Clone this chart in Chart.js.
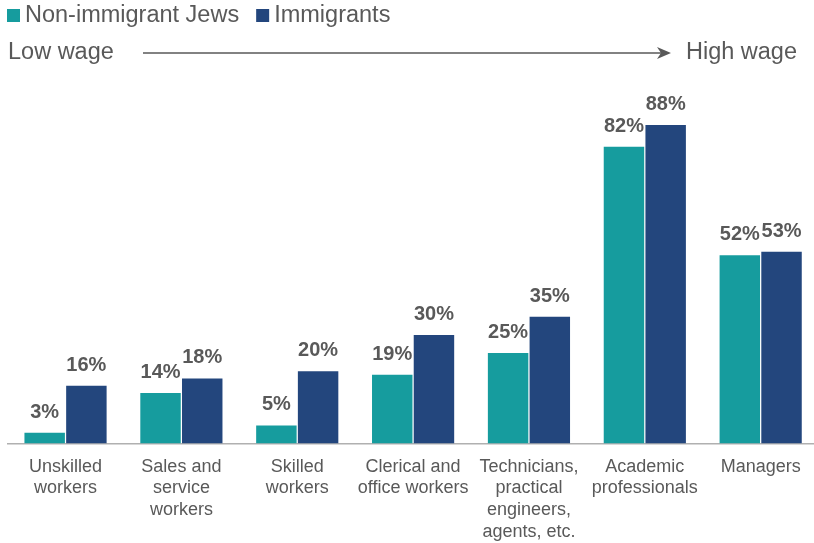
<!DOCTYPE html>
<html>
<head>
<meta charset="utf-8">
<script src="https://cdn.jsdelivr.net/npm/chart.js@4/dist/chart.umd.min.js"></script>
<style>
  html, body { margin: 0; padding: 0; background: #ffffff; overflow: hidden; }
  #wrap { width: 819px; height: 543px; position: relative; }
</style>
</head>
<body>
<div id="wrap"><canvas id="c"></canvas></div>
<script>
const categories = [
  ["Unskilled", "workers"],
  ["Sales and", "service", "workers"],
  ["Skilled", "workers"],
  ["Clerical and", "office workers"],
  ["Technicians,", "practical", "engineers,", "agents, etc."],
  ["Academic", "professionals"],
  ["Managers"]
];
const nonImmigrantJews = [3, 14, 5, 19, 25, 82, 52];
const immigrants = [16, 18, 20, 30, 35, 88, 53];
const seriesNames = ["Non-immigrant Jews", "Immigrants"];
const seriesColors = ["#169C9E", "#23467D"];
const wageLabels = ["Low wage", "High wage"];

const FONT = "'Liberation Sans', Arial, Helvetica, sans-serif";
const TEXT = "#595959";

const headerPlugin = {
  id: 'header',
  afterDraw(chart) {
    const ctx = chart.ctx;
    ctx.save();
    // legend
    ctx.font = "23.5px " + FONT;
    ctx.textBaseline = "middle";
    ctx.textAlign = "left";
    let x = 7;
    const ly = 15.5;
    seriesNames.forEach((name, i) => {
      ctx.fillStyle = seriesColors[i];
      ctx.fillRect(x, ly - 6.5, 13, 13);
      ctx.fillStyle = TEXT;
      ctx.fillText(name, x + 18, ly);
      x += 18 + ctx.measureText(name).width + 17;
    });
    // wage arrow row
    const ay = 53;
    ctx.fillStyle = TEXT;
    ctx.fillText(wageLabels[0], 8, ay);
    ctx.textAlign = "right";
    ctx.fillText(wageLabels[1], 797, ay);
    ctx.strokeStyle = TEXT;
    ctx.lineWidth = 1.5;
    ctx.beginPath();
    ctx.moveTo(143, ay);
    ctx.lineTo(664, ay);
    ctx.stroke();
    ctx.beginPath();
    ctx.moveTo(671, ay);
    ctx.lineTo(657, ay - 6);
    ctx.lineTo(661, ay);
    ctx.lineTo(657, ay + 6);
    ctx.closePath();
    ctx.fill();
    ctx.restore();
  }
};

const valueLabelPlugin = {
  id: 'valueLabels',
  afterDatasetsDraw(chart) {
    const ctx = chart.ctx;
    ctx.save();
    ctx.font = "bold 20px " + FONT;
    ctx.fillStyle = TEXT;
    ctx.textAlign = "center";
    ctx.textBaseline = "alphabetic";
    chart.data.datasets.forEach((ds, di) => {
      const meta = chart.getDatasetMeta(di);
      meta.data.forEach((bar, i) => {
        ctx.fillText(ds.data[i] + "%", bar.x, bar.y - 15);
      });
    });
    ctx.restore();
  }
};

new Chart(document.getElementById('c'), {
  type: 'bar',
  data: {
    labels: categories,
    datasets: [
      { label: seriesNames[0], data: nonImmigrantJews, backgroundColor: seriesColors[0] },
      { label: seriesNames[1], data: immigrants, backgroundColor: seriesColors[1] }
    ]
  },
  options: {
    responsive: true,
    maintainAspectRatio: false,
    animation: false,
    layout: { padding: { top: 81.5, left: 7.6, right: 0.4, bottom: -12 } },
    datasets: { bar: { categoryPercentage: 0.72, barPercentage: 0.97 } },
    plugins: {
      legend: { display: false },
      tooltip: { enabled: false }
    },
    scales: {
      x: {
        grid: { display: false, drawTicks: false },
        border: { display: true, color: '#b0b0b0', width: 1.5 },
        ticks: {
          color: TEXT,
          font: { family: FONT, size: 18, lineHeight: 1.2 },
          padding: 12.5,
          maxRotation: 0,
          autoSkip: false
        }
      },
      y: {
        display: false,
        min: 0,
        max: 100
      }
    }
  },
  plugins: [headerPlugin, valueLabelPlugin]
});
</script>
</body>
</html>
